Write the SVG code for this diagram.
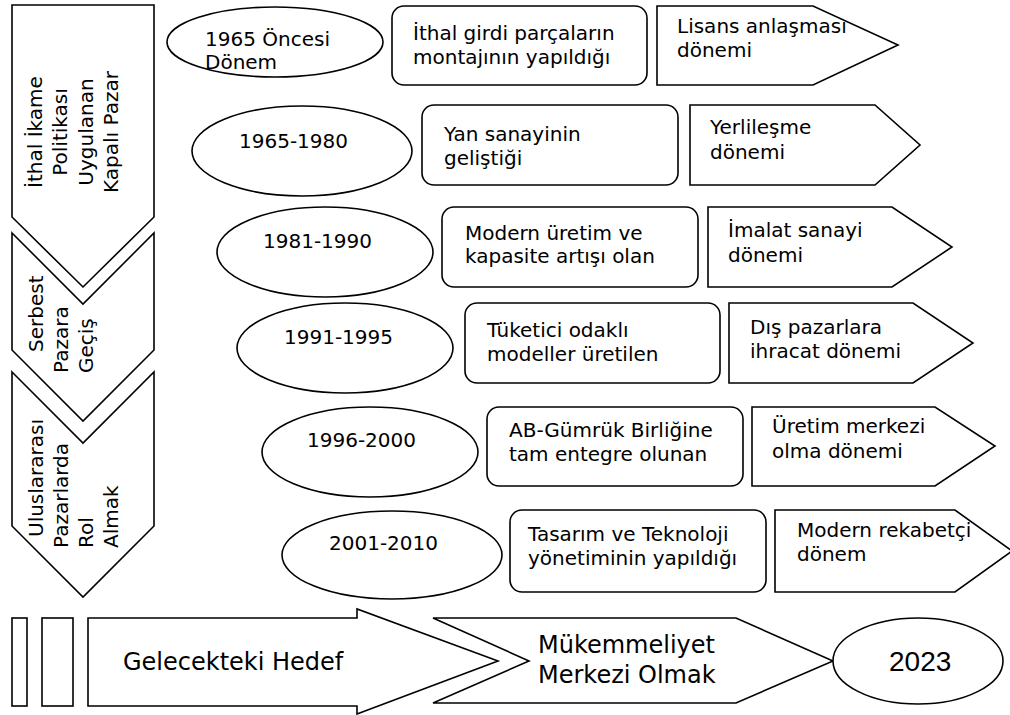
<svg xmlns="http://www.w3.org/2000/svg" width="1010" height="715" viewBox="0 0 1010 715">
  <style>
    .shape { fill: #ffffff; stroke: #000000; stroke-width: 1.6; stroke-linejoin: miter; }
    .lbl { font-family: "DejaVu Sans", Verdana, sans-serif; font-size: 20px; fill: #000000; }
    .big { font-family: "DejaVu Sans", Verdana, sans-serif; font-size: 24px; fill: #000000; }
    .year { font-family: "Liberation Sans", Arial, sans-serif; font-size: 28px; fill: #000000; }
  </style>
  <rect x="0" y="0" width="1010" height="715" fill="#ffffff"/>

  <!-- left phase chevrons -->
  <g id="phase-closed-market">
    <path class="shape" d="M12,5 L154,5 L154,217 L83,287 L12,217 Z"/>
    <text class="lbl" text-anchor="middle" transform="translate(42,132) rotate(-90)">İthal İkame</text>
    <text class="lbl" text-anchor="middle" transform="translate(67,132) rotate(-90)">Politikası</text>
    <text class="lbl" text-anchor="middle" transform="translate(93,132) rotate(-90)">Uygulanan</text>
    <text class="lbl" text-anchor="middle" transform="translate(118,132) rotate(-90)">Kapalı Pazar</text>
  </g>
  <g id="phase-free-market">
    <path class="shape" d="M12,233 L83,304 L154,233 L154,350 L83,421 L12,350 Z"/>
    <text class="lbl" transform="translate(43,352) rotate(-90)">Serbest</text>
    <text class="lbl" transform="translate(68,373) rotate(-90)">Pazara</text>
    <text class="lbl" transform="translate(93,373) rotate(-90)">Geçiş</text>
  </g>
  <g id="phase-international">
    <path class="shape" d="M12,372 L83,443 L154,372 L154,526 L83,597 L12,526 Z"/>
    <text class="lbl" transform="translate(43,537) rotate(-90)">Uluslararası</text>
    <text class="lbl" transform="translate(68,548) rotate(-90)">Pazarlarda</text>
    <text class="lbl" transform="translate(93,548) rotate(-90)">Rol</text>
    <text class="lbl" transform="translate(118,548) rotate(-90)">Almak</text>
  </g>

  <!-- row 1 -->
  <g id="period-pre1965">
    <ellipse class="shape" cx="275" cy="42" rx="108" ry="35"/>
    <text class="lbl" x="205" y="46">1965 Öncesi</text>
    <text class="lbl" x="205" y="69">Dönem</text>
  </g>
  <g id="feature-pre1965">
    <rect class="shape" x="392" y="6" width="255" height="79" rx="12"/>
    <text class="lbl" x="413" y="40">İthal girdi parçaların</text>
    <text class="lbl" x="413" y="64">montajının yapıldığı</text>
  </g>
  <g id="stage-pre1965">
    <path class="shape" d="M657,6 L813,6 L898,45 L813,85 L657,85 Z"/>
    <text class="lbl" x="677" y="33">Lisans anlaşması</text>
    <text class="lbl" x="677" y="57">dönemi</text>
  </g>

  <!-- row 2 -->
  <g id="period-1965-1980">
    <ellipse class="shape" cx="302" cy="151" rx="110" ry="45"/>
    <text class="lbl" x="239" y="148">1965-1980</text>
  </g>
  <g id="feature-1965-1980">
    <rect class="shape" x="422" y="105" width="256" height="80" rx="12"/>
    <text class="lbl" x="444" y="141">Yan sanayinin</text>
    <text class="lbl" x="444" y="165">geliştiği</text>
  </g>
  <g id="stage-1965-1980">
    <path class="shape" d="M690,105 L875,105 L920,145 L875,185 L690,185 Z"/>
    <text class="lbl" x="710" y="134">Yerlileşme</text>
    <text class="lbl" x="710" y="159">dönemi</text>
  </g>

  <!-- row 3 -->
  <g id="period-1981-1990">
    <ellipse class="shape" cx="325" cy="252" rx="108" ry="45"/>
    <text class="lbl" x="263" y="248">1981-1990</text>
  </g>
  <g id="feature-1981-1990">
    <rect class="shape" x="442" y="207" width="256" height="80" rx="12"/>
    <text class="lbl" x="465" y="240">Modern üretim ve</text>
    <text class="lbl" x="465" y="263">kapasite artışı olan</text>
  </g>
  <g id="stage-1981-1990">
    <path class="shape" d="M708,207 L892,207 L952,247 L892,287 L708,287 Z"/>
    <text class="lbl" x="728" y="237">İmalat sanayi</text>
    <text class="lbl" x="728" y="262">dönemi</text>
  </g>

  <!-- row 4 -->
  <g id="period-1991-1995">
    <ellipse class="shape" cx="345" cy="348" rx="108" ry="45"/>
    <text class="lbl" x="284" y="344">1991-1995</text>
  </g>
  <g id="feature-1991-1995">
    <rect class="shape" x="465" y="303" width="255" height="80" rx="12"/>
    <text class="lbl" x="487" y="337">Tüketici odaklı</text>
    <text class="lbl" x="487" y="361">modeller üretilen</text>
  </g>
  <g id="stage-1991-1995">
    <path class="shape" d="M729,303 L913,303 L973,343 L913,383 L729,383 Z"/>
    <text class="lbl" x="750" y="334">Dış pazarlara</text>
    <text class="lbl" x="750" y="358">ihracat dönemi</text>
  </g>

  <!-- row 5 -->
  <g id="period-1996-2000">
    <ellipse class="shape" cx="370" cy="452" rx="108" ry="45"/>
    <text class="lbl" x="307" y="447">1996-2000</text>
  </g>
  <g id="feature-1996-2000">
    <rect class="shape" x="487" y="407" width="256" height="79" rx="12"/>
    <text class="lbl" x="509" y="437">AB-Gümrük Birliğine</text>
    <text class="lbl" x="509" y="461">tam entegre olunan</text>
  </g>
  <g id="stage-1996-2000">
    <path class="shape" d="M752,407 L935,407 L995,446 L935,486 L752,486 Z"/>
    <text class="lbl" x="772" y="433">Üretim merkezi</text>
    <text class="lbl" x="772" y="458">olma dönemi</text>
  </g>

  <!-- row 6 -->
  <g id="period-2001-2010">
    <ellipse class="shape" cx="392" cy="555" rx="110" ry="44"/>
    <text class="lbl" x="329" y="550">2001-2010</text>
  </g>
  <g id="feature-2001-2010">
    <rect class="shape" x="510" y="510" width="256" height="82" rx="12"/>
    <text class="lbl" x="528" y="541">Tasarım ve Teknoloji</text>
    <text class="lbl" x="528" y="565">yönetiminin yapıldığı</text>
  </g>
  <g id="stage-2001-2010">
    <path class="shape" d="M775,510 L955,510 L1012,551 L955,592 L775,592 Z"/>
    <text class="lbl" x="797" y="537">Modern rekabetçi</text>
    <text class="lbl" x="797" y="561">dönem</text>
  </g>

  <!-- future goal band -->
  <g id="goal-bars">
    <rect class="shape" x="12" y="618" width="15" height="88"/>
    <rect class="shape" x="42" y="618" width="31" height="88"/>
  </g>
  <g id="goal-arrow">
    <path class="shape" d="M88,618 L357,618 L357,609 L498,661 L357,714 L357,706 L88,706 Z"/>
    <text class="big" x="123" y="670">Gelecekteki Hedef</text>
  </g>
  <g id="goal-excellence">
    <path class="shape" d="M433,618 L736,618 L833,661 L736,703 L433,703 L529,661 Z"/>
    <text class="big" x="538" y="653">Mükemmeliyet</text>
    <text class="big" x="538" y="683">Merkezi Olmak</text>
  </g>
  <g id="goal-year">
    <ellipse class="shape" cx="918" cy="661" rx="85" ry="43"/>
    <text class="year" x="889" y="671">2023</text>
  </g>

  <g id="connectors"/>
</svg>
